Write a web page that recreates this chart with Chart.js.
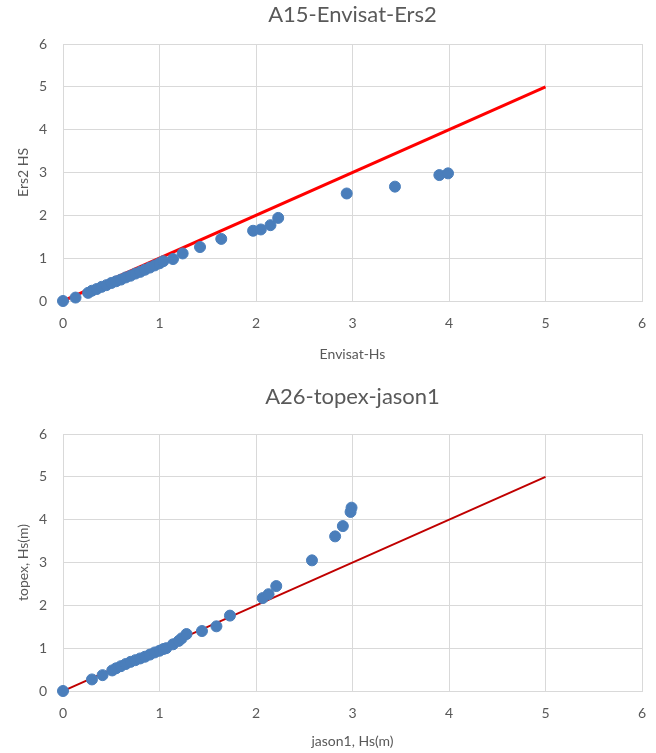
<!DOCTYPE html>
<html>
<head>
<meta charset="utf-8">
<script src="https://cdn.jsdelivr.net/npm/chart.js@4.4.1/dist/chart.umd.min.js"></script>
<style>
  body { margin: 0; background: #fff; }
  .box { position: absolute; left: 0; width: 656px; }
</style>
</head>
<body>
<div class="box" style="top:0; height:376px;"><canvas id="ChartCanvas1"></canvas></div>
<div class="box" style="top:376px; height:377px;"><canvas id="ChartCanvas2"></canvas></div>
<script>
// A15 - Envisat vs Ers2
const topX = [0, 0.13, 0.26, 0.30, 0.35, 0.40, 0.45, 0.50, 0.55, 0.60, 0.65, 0.70, 0.75, 0.80, 0.85, 0.90, 0.95, 1.00, 1.04,
              1.14, 1.24, 1.42, 1.64, 1.97, 2.05, 2.15, 2.23, 2.94, 3.44, 3.90, 3.99];
const topY = [0, 0.08, 0.19, 0.24, 0.28, 0.33, 0.37, 0.42, 0.46, 0.50, 0.55, 0.59, 0.64, 0.68, 0.73, 0.78, 0.83, 0.88, 0.93,
              0.98, 1.11, 1.26, 1.45, 1.64, 1.67, 1.77, 1.94, 2.51, 2.67, 2.94, 2.98];

// A26 - topex vs jason1
const bottomX = [0, 0.30, 0.41, 0.51, 0.55, 0.60, 0.65, 0.70, 0.75, 0.80, 0.85, 0.90, 0.95, 1.00, 1.04, 1.07, 1.14, 1.20, 1.23, 1.28,
                 1.44, 1.59, 1.73, 2.07, 2.13, 2.21, 2.58, 2.82, 2.90, 2.98, 2.99];
const bottomY = [0, 0.27, 0.37, 0.48, 0.53, 0.58, 0.63, 0.68, 0.72, 0.76, 0.80, 0.85, 0.90, 0.94, 0.98, 1.00, 1.09, 1.17, 1.23, 1.33,
                 1.40, 1.51, 1.76, 2.17, 2.26, 2.45, 3.05, 3.61, 3.85, 4.18, 4.28];

// 1:1 reference line
const lineX = [0, 5];
const lineY = [0, 5];

const axisTicks = [0, 1, 2, 3, 4, 5, 6];

const fontFamily = "Lato, 'Open Sans', sans-serif";
const textColor = '#595959';
const gridColor = '#d9d9d9';

function toPoints(xs, ys)
{
    return xs.map((x, i) => ({ x: x, y: ys[i] }));
}

// lay: title paddings, x axis box height, bottom padding etc. differ a bit between the two panels
function MakeChart(id, title, xTitle, yTitle, xs, ys, lineColor, lineWidth, lay)
{
    const ctx = document.getElementById(id).getContext('2d');

    return new Chart(ctx,
    {
        type: 'scatter',
        data: {
            datasets: [
                {
                    label: 'data',
                    data: toPoints(xs, ys),
                    backgroundColor: '#4a7ebb',
                    borderColor: '#4a7ebb',
                    pointRadius: 5.5,
                    clip: false,
                    order: 0
                },
                {
                    label: '1:1',
                    data: toPoints(lineX, lineY),
                    showLine: true,
                    borderColor: lineColor,
                    borderWidth: lineWidth,
                    pointRadius: 0,
                    order: 1
                }
            ]
        },
        options: {
            responsive: true,
            maintainAspectRatio: false,
            animation: false,
            layout: { padding: { left: 0, right: 14, top: 0, bottom: lay.bottom } },
            plugins: {
                legend: { display: false },
                tooltip: { enabled: false },
                title: {
                    display: true,
                    fullSize: false,
                    text: title,
                    color: textColor,
                    font: { family: fontFamily, size: 22, weight: 'normal' },
                    padding: { top: lay.titleTop, bottom: lay.titleBottom }
                }
            },
            scales: {
                x: {
                    type: 'linear',
                    min: 0,
                    max: 6,
                    afterBuildTicks: s => { s.ticks = axisTicks.map(v => ({ value: v })); },
                    ticks: { color: textColor, font: { family: fontFamily, size: 14 }, padding: 14 },
                    grid: { color: gridColor, drawTicks: false },
                    border: { color: gridColor },
                    title: {
                        display: true,
                        text: xTitle,
                        color: textColor,
                        font: { family: fontFamily, size: 14 },
                        padding: { top: 0, bottom: lay.xTitleBottom }
                    },
                    afterFit: s => { s.height = lay.xHeight; s.paddingRight = 0; s.paddingLeft = 0; }
                },
                y: {
                    type: 'linear',
                    min: 0,
                    max: 6,
                    afterBuildTicks: s => { s.ticks = axisTicks.map(v => ({ value: v })); },
                    ticks: { color: textColor, font: { family: fontFamily, size: 14 }, padding: 16 },
                    grid: { color: gridColor, drawTicks: false },
                    border: { color: gridColor },
                    title: {
                        display: true,
                        text: yTitle,
                        color: textColor,
                        font: { family: fontFamily, size: 14 },
                        padding: { top: 15, bottom: 0 }
                    },
                    afterFit: s => { s.width = 63; }
                }
            }
        }
    });
}

MakeChart('ChartCanvas1', 'A15-Envisat-Ers2', 'Envisat-Hs', 'Ers2 HS', topX, topY, '#ff0000', 3,
    { titleTop: 2, titleBottom: 15.6, xHeight: 62, bottom: 13, xTitleBottom: 0 });
MakeChart('ChartCanvas2', 'A26-topex-jason1', 'jason1, Hs(m)', 'topex, Hs(m)', bottomX, bottomY, '#c00000', 2,
    { titleTop: 8, titleBottom: 23.6, xHeight: 62, bottom: 0, xTitleBottom: 3 });
</script>
</body>
</html>
